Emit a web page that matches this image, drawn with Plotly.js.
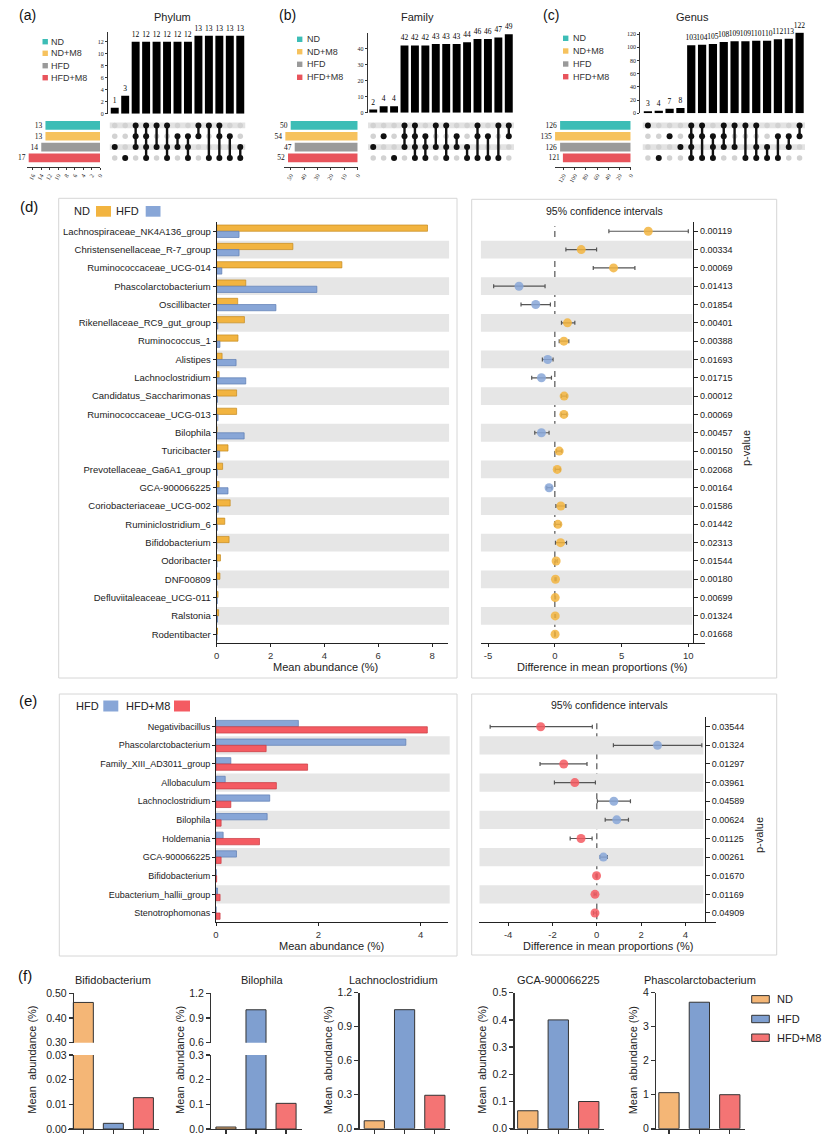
<!DOCTYPE html>
<html><head><meta charset="utf-8">
<script src="https://cdn.plot.ly/plotly-3.0.1.min.js"></script>
<style>html,body{margin:0;padding:0;background:#fff}#chart{width:829px;height:1137px}</style>
</head><body><div id="chart"></div>
<script>
// ---------------- DATA ----------------
const groups = ["ND", "ND+M8", "HFD", "HFD+M8"];
const groupColors = ["#3DBDB6", "#F6C25E", "#9A9A9A", "#E8545C"];

const phylumSetSizes = [13, 13, 14, 17];
const phylumCounts = [1, 3, 12, 12, 12, 12, 12, 12, 13, 13, 13, 13, 13];
const phylumSets = [[2],[3],[0,1,2],[0,1,2,3],[0,2],[0,2,3],[1,2],[1,2,3],[0,1],[0,3],[0,1,3],[1,3],[2,3]];

const familySetSizes = [50, 54, 47, 52];
const familyCounts = [2, 4, 4, 42, 42, 42, 43, 43, 43, 44, 46, 46, 47, 49];
const familySets = [[2],[1],[3],[0,1,2],[0,1,2,3],[1,2,3],[0,2],[0,2,3],[1,2],[2,3],[0,1,3],[1,3],[0,3],[0,1]];

const genusSetSizes = [126, 135, 126, 121];
const genusCounts = [3, 4, 7, 8, 103, 104, 105, 108, 109, 109, 110, 110, 112, 113, 122];
const genusSets = [[0],[3],[1],[2],[0,1,2,3],[0,1,3],[1,2,3],[0,1,2],[0,2],[0,3],[0,2,3],[2,3],[1,3],[1,2],[0,1]];

const dTaxa = ["Lachnospiraceae_NK4A136_group","Christensenellaceae_R-7_group","Ruminococcaceae_UCG-014",
  "Phascolarctobacterium","Oscillibacter","Rikenellaceae_RC9_gut_group","Ruminococcus_1","Alistipes",
  "Lachnoclostridium","Candidatus_Saccharimonas","Ruminococcaceae_UCG-013","Bilophila","Turicibacter",
  "Prevotellaceae_Ga6A1_group","GCA-900066225","Coriobacteriaceae_UCG-002","Ruminiclostridium_6",
  "Bifidobacterium","Odoribacter","DNF00809","Defluviitaleaceae_UCG-011","Ralstonia","Rodentibacter"];
const dND  = [7.83, 2.83, 4.65, 1.08, 0.78, 1.03, 0.79, 0.20, 0.09, 0.74, 0.74, 0.01, 0.42, 0.22, 0.09, 0.50, 0.30, 0.46, 0.14, 0.12, 0.05, 0.07, 0.03];
const dHFD = [0.83, 0.83, 0.19, 3.72, 2.20, 0.04, 0.12, 0.72, 1.08, 0.03, 0.05, 1.02, 0.11, 0.02, 0.42, 0.06, 0.02, 0.003, 0.01, 0.01, 0.02, 0.03, 0.01];
const dDiff = [7.00, 1.98, 4.40, -2.68, -1.43, 0.95, 0.68, -0.53, -1.00, 0.70, 0.68, -1.00, 0.33, 0.18, -0.43, 0.45, 0.23, 0.43, 0.10, 0.05, 0.03, 0.03, 0.02];
const dLow  = [4.05, 0.83, 2.88, -4.58, -2.53, 0.50, 0.33, -0.93, -1.73, 0.50, 0.48, -1.50, 0.13, 0.03, -0.60, 0.08, 0.03, 0.05, 0.03, 0.01, 0.00, 0.00, 0.00];
const dHigh = [10.00, 3.13, 6.00, -0.73, -0.33, 1.50, 1.05, -0.13, -0.25, 0.90, 0.90, -0.43, 0.53, 0.40, -0.22, 0.83, 0.45, 0.88, 0.18, 0.10, 0.06, 0.06, 0.04];
const dP = ["0.00119","0.00334","0.00069","0.01413","0.01854","0.00401","0.00388","0.01693","0.01715","0.00012",
  "0.00069","0.00457","0.00150","0.02068","0.00164","0.01586","0.01442","0.02313","0.01544","0.00180","0.00699","0.01324","0.01668"];
const dCiTicks = [-5, 0, 5, 10];
const dCiTickText = ["-5", "0", "5", "10"];

const eTaxa = ["Negativibacillus","Phascolarctobacterium","Family_XIII_AD3011_group","Allobaculum","Lachnoclostridium",
  "Bilophila","Holdemania","GCA-900066225","Bifidobacterium","Eubacterium_hallii_group","Stenotrophomonas"];
const eHFD = [1.61, 3.71, 0.29, 0.18, 1.05, 1.00, 0.14, 0.40, 0.003, 0.03, 0.00];
const eM8  = [4.13, 0.98, 1.79, 1.18, 0.29, 0.10, 0.85, 0.10, 0.013, 0.08, 0.08];
const eDiff = [-2.53, 2.74, -1.49, -0.99, 0.77, 0.90, -0.71, 0.30, -0.01, -0.08, -0.08];
const eLow  = [-4.81, 0.75, -2.56, -1.91, 0.03, 0.38, -1.20, 0.15, -0.04, -0.12, -0.15];
const eHigh = [-0.20, 4.74, -0.44, -0.06, 1.52, 1.43, -0.21, 0.48, 0.02, -0.03, -0.01];
const eP = ["0.03544","0.01324","0.01297","0.03961","0.04589","0.00624","0.01125","0.00261","0.01670","0.01169","0.04909"];
const eCiTicks = [-4, -2, 0, 2, 4];
const eCiTickText = ["-4", "-2", "0", "2", "4"];

const fGroups = ["ND", "HFD", "HFD+M8"];
const fTitles = ["Bifidobacterium", "Bilophila", "Lachnoclostridium", "GCA-900066225", "Phascolarctobacterium"];
const fBifido = [0.463, 0.0023, 0.0127];
const fBilophila = [0.008, 1.00, 0.104];
const fLachno = [0.07, 1.05, 0.295];
const fGCA = [0.066, 0.40, 0.10];
const fPhasco = [1.06, 3.72, 1.00];

// ---------------- HELPERS ----------------
const W = 829, H = 1137;
const X = px => px / W;
const Y = py => 1 - py / H;
const xd = (a, b) => [X(a), X(b)];
const yd = (top, bottom) => [Y(bottom), Y(top)];
const SANS = '"Liberation Sans", Arial, sans-serif';
const SERIF = '"Liberation Serif", "Times New Roman", serif';

const traces = [];
const layout = {
  width: W, height: H, margin: {l: 0, r: 0, t: 0, b: 0},
  paper_bgcolor: '#fff', plot_bgcolor: 'rgba(0,0,0,0)', showlegend: false, barmode: 'overlay',
  font: {family: SANS, size: 10, color: '#222'}, shapes: [], annotations: [], hovermode: false
};
const an = n => (n === 1 ? '' : String(n));
function setX(n, o) { layout['xaxis' + an(n)] = Object.assign({showgrid: false, zeroline: false, fixedrange: true}, o); }
function setY(n, o) { layout['yaxis' + an(n)] = Object.assign({showgrid: false, zeroline: false, fixedrange: true}, o); }
function txt(t, x, y, o) {
  layout.annotations.push(Object.assign({text: t, x: X(x), y: Y(y), xref: 'paper', yref: 'paper', showarrow: false,
    xanchor: 'center', yanchor: 'middle', font: {size: 10, color: '#222', family: SANS}}, o));
}
function rect(x0, y0, x1, y1, o) {
  layout.shapes.push(Object.assign({type: 'rect', xref: 'paper', yref: 'paper', x0: X(x0), x1: X(x1), y0: Y(y1), y1: Y(y0),
    line: {width: 0}}, o));
}
const HID = {showline: false, showticklabels: false, ticks: ''};

// ---------------- UPSET PANELS ----------------
function upset(base, counts, sets, sizes, g) {
  const nb = base, nm = base + 1, ns = base + 2;
  const n = counts.length;
  const cols = counts.map((_, i) => i);
  const mTop = 120, mBot = 163.3;
  traces.push({type: 'bar', x: cols, y: counts, xaxis: 'x' + an(nb), yaxis: 'y' + an(nb), width: 0.76,
    marker: {color: '#000'}, text: counts.map(String), textposition: 'outside', cliponaxis: false,
    constraintext: 'none', textfont: {family: SERIF, size: 7.5, color: '#000'}});
  setX(nb, Object.assign({domain: xd(g.barX[0], g.barX[1]), range: [-0.5, n - 0.5], anchor: 'y' + an(nb)}, HID));
  setY(nb, {domain: yd(g.barTop, g.barBottom), range: [0, g.yMax], anchor: 'free', position: X(g.yPos),
    showline: true, linecolor: '#000', linewidth: 0.8, ticks: 'outside', ticklen: 2, tickwidth: 0.8, tickcolor: '#000',
    tickvals: g.yTicks, tickfont: {family: SERIF, size: 6, color: '#222'}});
  const gx = [], gy = [], bx = [], by = [], lx = [], ly = [];
  sets.forEach((s, c) => {
    for (let r = 0; r < 4; r++) {
      if (s.includes(r)) { bx.push(c); by.push(r); } else { gx.push(c); gy.push(r); }
    }
    if (s.length > 1) { lx.push(c, c, null); ly.push(Math.min(...s), Math.max(...s), null); }
  });
  traces.push({type: 'scatter', mode: 'markers', x: gx, y: gy, xaxis: 'x' + an(nm), yaxis: 'y' + an(nm),
    marker: {color: '#D2D2D2', size: 5.5}});
  traces.push({type: 'scatter', mode: 'lines', x: lx, y: ly, xaxis: 'x' + an(nm), yaxis: 'y' + an(nm),
    line: {color: '#111', width: 2.4}, connectgaps: false});
  traces.push({type: 'scatter', mode: 'markers', x: bx, y: by, xaxis: 'x' + an(nm), yaxis: 'y' + an(nm),
    marker: {color: '#111', size: 6}});
  setX(nm, Object.assign({domain: xd(g.barX[0], g.barX[1]), range: [-0.5, n - 0.5], anchor: 'y' + an(nm)}, HID));
  setY(nm, Object.assign({domain: yd(mTop, mBot), range: [3.5, -0.5], anchor: 'x' + an(nm)}, HID));
  [0, 2].forEach(r => layout.shapes.push({type: 'rect', xref: 'x' + an(nm), yref: 'y' + an(nm), x0: -0.5, x1: n - 0.5,
    y0: r - 0.27, y1: r + 0.27, fillcolor: '#E3E3E3', line: {width: 0}, layer: 'below'}));
  traces.push({type: 'bar', orientation: 'h', x: sizes, y: [0, 1, 2, 3], xaxis: 'x' + an(ns), yaxis: 'y' + an(ns),
    width: 0.8, marker: {color: groupColors}, text: sizes.map(String), textposition: 'outside', cliponaxis: false,
    constraintext: 'none', textfont: {family: SERIF, size: 7.5, color: '#111'}});
  setX(ns, {domain: xd(g.sizeX[0], g.sizeX[1]), range: [g.sizeMax, 0], anchor: 'free', position: Y(167),
    showline: true, linecolor: '#000', linewidth: 0.8, ticks: 'outside', ticklen: 2, tickwidth: 0.8, tickcolor: '#000',
    tickvals: g.sizeTicks, tickangle: -60, tickfont: {family: SERIF, size: 6, color: '#222'}});
  setY(ns, Object.assign({domain: yd(mTop, mBot), range: [3.5, -0.5], anchor: 'x' + an(ns)}, HID));
  groups.forEach((gname, i) => {
    rect(g.sqX, g.rows[i] - 2.7, g.sqX + 5.4, g.rows[i] + 2.7, {fillcolor: groupColors[i]});
    txt(gname, g.txX, g.rows[i], {xanchor: 'left', font: {size: 9, color: '#333', family: SANS}});
  });
  txt(g.title, g.titleX, 16.5, {font: {size: 11, color: '#222', family: SANS}});
  txt(g.label, g.labelX, 15, {font: {size: 14, color: '#111', family: SANS}});
}

upset(1, phylumCounts, phylumSets, phylumSetSizes, {
  barX: [109.5, 245.5], barTop: 31.5, barBottom: 113.7, yPos: 107, yMax: 13.7, yTicks: [0, 2, 4, 6, 8, 10, 12],
  sizeX: [27, 100], sizeMax: 17.4, sizeTicks: [0, 2, 4, 6, 8, 10, 12, 14, 16],
  sqX: 42.5, txX: 49, rows: [41.7, 53.3, 65.7, 77.7], title: 'Phylum', titleX: 172, label: '(a)', labelX: 27});
upset(4, familyCounts, familySets, familySetSizes, {
  barX: [368, 514], barTop: 33, barBottom: 112.7, yPos: 366.7, yMax: 49.8, yTicks: [0, 10, 20, 30, 40],
  sizeX: [284, 357.7], sizeMax: 55, sizeTicks: [0, 10, 20, 30, 40, 50],
  sqX: 297, txX: 304.5, rows: [39.3, 51.7, 64.3, 77.3], title: 'Family', titleX: 417, label: '(b)', labelX: 287});
upset(7, genusCounts, genusSets, genusSetSizes, {
  barX: [642.5, 805], barTop: 32.3, barBottom: 113.3, yPos: 639.3, yMax: 122.7, yTicks: [0, 20, 40, 60, 80, 100, 120],
  sizeX: [554.5, 630.7], sizeMax: 136, sizeTicks: [0, 20, 40, 60, 80, 100, 120],
  sqX: 563, txX: 571, rows: [38.3, 51, 64, 76.7], title: 'Genus', titleX: 692, label: '(c)', labelX: 551});

// ---------------- STAMP PANELS (d), (e) ----------------
const C_ND = '#F2B440', C_ND_L = '#C48A1E';
const C_HFD = '#88A6D7', C_HFD_L = '#5B7CB3';
const C_M8 = '#F45B62', C_M8_L = '#C93A40';
const AXC = {showline: true, linecolor: '#222', linewidth: 1, ticks: 'outside', ticklen: 3, tickwidth: 1, tickcolor: '#222'};

function stamp(nb, nc, taxa, v1, v2, diff, low, high, pv, c1, c1l, c2, c2l, ciPos, ciNeg, g) {
  const idx = taxa.map((_, i) => i);
  const nT = taxa.length;
  traces.push({type: 'bar', orientation: 'h', x: v1, y: idx, offset: -0.34, width: 0.34, xaxis: 'x' + an(nb), yaxis: 'y' + an(nb),
    marker: {color: c1, line: {color: c1l, width: 0.7}}});
  traces.push({type: 'bar', orientation: 'h', x: v2, y: idx, offset: 0, width: 0.34, xaxis: 'x' + an(nb), yaxis: 'y' + an(nb),
    marker: {color: c2, line: {color: c2l, width: 0.7}}});
  setX(nb, Object.assign({domain: xd(g.bx[0], g.bx[1]), range: [0, g.bmax], anchor: 'y' + an(nb), tickvals: g.bticks,
    tickfont: {size: 9.5, color: '#333'}}, AXC));
  setY(nb, Object.assign({domain: yd(g.top, g.bot), range: [nT - 0.5, -0.5], anchor: 'x' + an(nb), tickvals: idx, ticktext: taxa,
    tickfont: {size: g.cfont, color: '#222'}}, AXC));
  const pos = [], neg = [];
  diff.forEach((d, i) => (d >= 0 ? pos : neg).push(i));
  [[pos, ciPos], [neg, ciNeg]].forEach(([ids, col]) => {
    traces.push({type: 'scatter', mode: 'markers', x: ids.map(i => diff[i]), y: ids, xaxis: 'x' + an(nc), yaxis: 'y' + an(nc),
      error_x: {type: 'data', symmetric: false, array: ids.map(i => high[i] - diff[i]), arrayminus: ids.map(i => diff[i] - low[i]),
        color: '#555', thickness: 1.2, width: 2},
      marker: {color: col, size: 9, opacity: 0.86}, cliponaxis: false});
  });
  setX(nc, Object.assign({domain: xd(g.cx[0], g.cx[1]), range: g.crange, anchor: 'y' + an(nc), tickvals: g.cticks,
    ticktext: g.ctext, tickfont: {size: 9.5, color: '#333'}}, AXC));
  setY(nc, Object.assign({domain: yd(g.top, g.bot), range: [nT - 0.5, -0.5], anchor: 'free', position: X(g.cyPos), side: 'right',
    tickvals: idx, ticktext: pv, tickfont: {size: 9, color: '#222'}}, AXC, {ticklen: 4}));
  idx.filter(i => i % 2 === 1).forEach(i => {
    layout.shapes.push({type: 'rect', xref: 'x' + an(nb) + ' domain', yref: 'y' + an(nb), x0: 0, x1: 1.006, y0: i - 0.485, y1: i + 0.485,
      fillcolor: '#E6E6E6', line: {width: 0}, layer: 'below'});
    layout.shapes.push({type: 'rect', xref: 'x' + an(nc), yref: 'y' + an(nc), x0: g.crange[0], x1: g.bandEnd, y0: i - 0.485, y1: i + 0.485,
      fillcolor: '#E6E6E6', line: {width: 0}, layer: 'below'});
  });
  layout.shapes.push({type: 'line', xref: 'x' + an(nc), yref: 'y' + an(nc) + ' domain', x0: 0, x1: 0, y0: 0.015, y1: 0.99,
    line: {color: '#777', width: 1.5, dash: '6px,4px'}, layer: 'below'});
  rect(g.box1[0], g.box1[1], g.box1[2], g.box1[3], {line: {color: '#D6D6D6', width: 1}, fillcolor: 'rgba(0,0,0,0)'});
  rect(g.box2[0], g.box2[1], g.box2[2], g.box2[3], {line: {color: '#D6D6D6', width: 1}, fillcolor: 'rgba(0,0,0,0)'});
  txt('Mean abundance (%)', g.bTitle[0], g.bTitle[1], {font: {size: 11, color: '#222', family: SANS}});
  txt('Difference in mean proportions (%)', g.cTitle[0], g.cTitle[1], {font: {size: 11, color: '#222', family: SANS}});
  txt('95% confidence intervals', g.ciHead[0], g.ciHead[1], {font: {size: 10.5, color: '#222', family: SANS}});
  txt('p-value', g.pLab[0], g.pLab[1], {textangle: -90, font: {size: 11, color: '#222', family: SANS}});
  txt(g.label, g.labelPos[0], g.labelPos[1], {font: {size: 15, color: '#111', family: SANS}});
}

stamp(10, 11, dTaxa, dND, dHFD, dDiff, dLow, dHigh, dP, C_ND, C_ND_L, C_HFD, C_HFD_L, C_ND, C_HFD, {
  bx: [216.7, 447.7], bmax: 8.58, bticks: [0, 2, 4, 6, 8], top: 222.1, bot: 643.4, cfont: 9.5,
  cx: [480.7, 705], crange: [-5.55, 11.25], cticks: dCiTicks, ctext: dCiTickText, cyPos: 693.3, bandEnd: 10.3,
  box1: [58.7, 198.3, 457, 678], box2: [471.7, 199.3, 776.7, 678],
  bTitle: [325, 667.3], cTitle: [601.7, 667.3], ciHead: [604, 210.7], pLab: [746.7, 448.3], label: '(d)', labelPos: [28.5, 206.7]});

stamp(12, 13, eTaxa, eHFD, eM8, eDiff, eLow, eHigh, eP, C_HFD, C_HFD_L, C_M8, C_M8_L, C_HFD, C_M8, {
  bx: [216, 448.3], bmax: 4.54, bticks: [0, 2, 4], top: 717.4, bot: 922.3, cfont: 9,
  cx: [479.3, 716], crange: [-5.3, 5.38], cticks: eCiTicks, ctext: eCiTickText, cyPos: 705, bandEnd: 4.81,
  box1: [59.3, 694, 457, 956], box2: [471.7, 694, 776.7, 955],
  bTitle: [331.7, 946], cTitle: [608.3, 946], ciHead: [609, 705], pLab: [759, 835], label: '(e)', labelPos: [28.3, 700]});

txt('ND', 92, 211, {xanchor: 'right', font: {size: 11, color: '#222', family: SANS}});
rect(96, 206, 111, 216.7, {fillcolor: C_ND});
txt('HFD', 141, 211, {xanchor: 'right', font: {size: 11, color: '#222', family: SANS}});
rect(145.7, 206, 160.5, 216.7, {fillcolor: C_HFD});
txt('HFD', 100.5, 705.5, {xanchor: 'right', font: {size: 11, color: '#222', family: SANS}});
rect(103.3, 700.5, 118.3, 711.5, {fillcolor: C_HFD});
txt('HFD+M8', 172, 705.5, {xanchor: 'right', font: {size: 11, color: '#222', family: SANS}});
rect(174, 700.5, 190, 711.5, {fillcolor: C_M8});

// ---------------- PANEL (f) ----------------
const F_ND = '#F4B676', F_HFD = '#7F9FD0', F_M8 = '#F47474';
const fColors = [F_ND, F_HFD, F_M8];
const FAX = {showline: true, linecolor: '#333', linewidth: 1.2, ticks: 'outside', ticklen: 4, tickwidth: 1.2, tickcolor: '#333'};
function fBar(vals, xa, ya) {
  traces.push({type: 'bar', x: [0, 1, 2], y: vals, width: 0.667, xaxis: 'x' + an(xa), yaxis: 'y' + an(ya),
    marker: {color: fColors, line: {color: '#333', width: 1}}});
}
function fX(n, dom, range, yAnchor) {
  setX(n, Object.assign({domain: xd(dom[0], dom[1]), range: range, anchor: 'y' + an(yAnchor), tickvals: [0, 1, 2],
    showticklabels: false}, FAX));
}
function fY(n, top, bot, range, tv, tt, pos) {
  setY(n, Object.assign({domain: yd(top, bot), range: range, anchor: 'free', position: X(pos), tickvals: tv, ticktext: tt,
    tickfont: {size: 10.5, color: '#222'}}, FAX));
}
fBar(fBifido, 14, 14); fBar(fBifido, 14, 15);
fX(14, [68.3, 159.3], [-0.5, 2.53], 14);
fY(14, 1055, 1129, [0, 0.03], [0, 0.01, 0.02, 0.03], ['0.00', '0.01', '0.02', '0.03'], 72.7);
fY(15, 993.3, 1042.7, [0.3, 0.5], [0.3, 0.4, 0.5], ['0.30', '0.40', '0.50'], 72.7);
fBar(fBilophila, 15, 16); fBar(fBilophila, 15, 17);
fX(15, [206.7, 301.7], [-0.64, 2.52], 16);
fY(16, 1055, 1129, [0, 0.3], [0, 0.1, 0.2, 0.3], ['0.0', '0.1', '0.2', '0.3'], 210);
fY(17, 993.3, 1042.7, [0.6, 1.2], [0.6, 0.9, 1.2], ['0.6', '0.9', '1.2'], 210);
fBar(fLachno, 16, 18);
fX(16, [354, 450], [-0.67, 2.5], 18);
fY(18, 992.7, 1128.7, [0, 1.2], [0, 0.3, 0.6, 0.9, 1.2], ['0.0', '0.3', '0.6', '0.9', '1.2'], 358.3);
fBar(fGCA, 17, 19);
fX(17, [509.5, 604], [-0.6, 2.5], 19);
fY(19, 992.7, 1128.7, [0, 0.5], [0, 0.1, 0.2, 0.3, 0.4, 0.5], ['0.0', '0.1', '0.2', '0.3', '0.4', '0.5'], 513.3);
fBar(fPhasco, 18, 20);
fX(18, [651, 745], [-0.59, 2.5], 20);
fY(20, 992.7, 1128.7, [0, 4], [0, 1, 2, 3, 4], ['0', '1', '2', '3', '4'], 655);

const fTitleX = [113.3, 261.7, 393, 558.3, 700];
fTitles.forEach((t, i) => txt(t, fTitleX[i], 979.5, {font: {size: 11, color: '#222', family: SANS}}));
const fYTitleX = [31.7, 180, 328.3, 481.7, 633.3];
fYTitleX.forEach(x => txt('Mean\u00a0\u00a0abundance (%)', x, 1060, {textangle: -90, font: {size: 11, color: '#222', family: SANS}}));
txt('(f)', 25, 975, {font: {size: 15, color: '#111', family: SANS}});
const fLegRows = [999.3, 1019, 1037.7];
fGroups.forEach((gname, i) => {
  rect(751.7, fLegRows[i] - 3.7, 769.3, fLegRows[i] + 3.7, {fillcolor: fColors[i], line: {color: '#333', width: 1}});
  txt(gname, 775, fLegRows[i], {xanchor: 'left', font: {size: 11, color: '#222', family: SANS}});
});

Plotly.newPlot('chart', traces, layout, {staticPlot: true, displayModeBar: false});
</script></body></html>
